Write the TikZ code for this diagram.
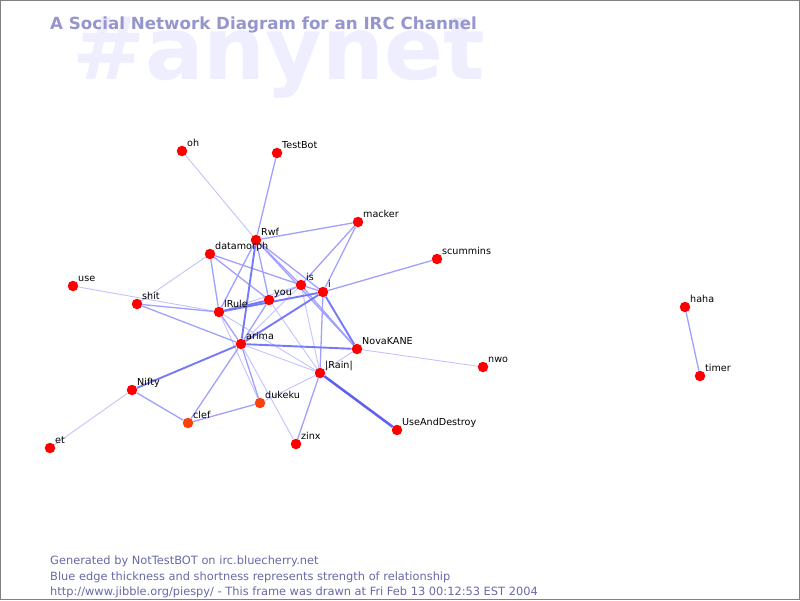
\documentclass[tikz,border=0pt]{standalone}
\usepackage{fontspec}
\setmainfont{DejaVu Sans}
\usetikzlibrary{backgrounds}
\definecolor{ethin}{RGB}{195,195,255}
\definecolor{emed}{RGB}{160,160,255}
\definecolor{ethick}{RGB}{120,120,250}
\definecolor{ebold}{RGB}{95,95,240}
\definecolor{titlec}{RGB}{150,150,205}
\definecolor{footc}{RGB}{105,105,170}
\definecolor{bgtext}{RGB}{238,238,255}
\definecolor{orangered}{RGB}{250,65,10}
\tikzset{
  dot/.style={circle,inner sep=0pt,minimum size=10.5pt,draw=none},
  lbl/.style={anchor=base west,inner sep=0pt,font=\fontsize{9.6}{11}\selectfont,text=black},
  ethinline/.style={draw=ethin,line width=0.9pt},
  emedline/.style={draw=emed,line width=1.3pt},
  ethickline/.style={draw=ethick,line width=1.9pt},
  eboldline/.style={draw=ebold,line width=2.5pt},
  foot/.style={anchor=base west,inner sep=0pt,text=footc,font=\fontsize{11.4}{13}\selectfont}
}
\newcommand\netnode[5][red]{%
  \node[dot,fill=#1] (#2) at (#3,#4) {};
  \node[lbl] (#2-l) at (#3+5,#4-5) {#5};}
\begin{document}
\begin{tikzpicture}[x=1pt,y=-1pt]
\useasboundingbox (0,0) rectangle (800,600);

\netnode{oh}{182}{151}{oh}
\netnode{TestBot}{277}{153}{TestBot}
\netnode{Rwf}{256}{240}{Rwf}
\netnode{macker}{358}{222}{macker}
\netnode{datamorph}{210}{254}{datamorph}
\netnode{scummins}{437}{259}{scummins}
\netnode{use}{73}{286}{use}
\netnode{shit}{137}{304}{shit}
\netnode{is}{301}{285}{is}
\netnode{i}{323}{292}{i}
\netnode{you}{269}{300}{you}
\netnode{IRule}{219}{312}{lRule}
\netnode{arima}{241}{344}{arima}
\netnode{NovaKANE}{357}{349}{NovaKANE}
\netnode{Rain}{320}{373}{|Rain|}
\netnode{nwo}{483}{367}{nwo}
\netnode{Nifty}{132}{390}{Nifty}
\netnode[orangered]{dukeku}{260}{403}{dukeku}
\netnode[orangered]{clef}{188}{423}{clef}
\netnode{UseAndDestroy}{397}{430}{UseAndDestroy}
\netnode{zinx}{296}{444}{zinx}
\netnode{et}{50}{448}{et}
\netnode{haha}{685}{307}{haha}
\netnode{timer}{700}{376}{timer}

\node[anchor=base west,inner sep=0pt,text=titlec,font=\bfseries\fontsize{16.7}{20}\selectfont] (title) at (50,29.5) {A Social Network Diagram for an IRC Channel};

\node[foot] (f1) at (50,564) {Generated by NotTestBOT on irc.bluecherry.net};
\node[foot] (f2) at (50,580) {Blue edge thickness and shortness represents strength of relationship};
\node[foot] (f3) at (50,595.5) {http://www.jibble.org/piespy/ - This frame was drawn at Fri Feb 13 00:12:53 EST 2004};

\draw[gray,line width=1.2pt] (0.6,0.6) rectangle (799.4,599.4);

\begin{scope}[on background layer]
\fill[white] (0,0) rectangle (800,600);
\node[anchor=base west,inner sep=0pt,text=bgtext,font=\bfseries\fontsize{87}{90}\selectfont] (bg) at (72,79) {\#anynet};
% thin
\draw[ethinline] (oh) -- (Rwf);
\draw[ethinline] (datamorph) -- (shit);
\draw[ethinline] (use) -- (IRule);
\draw[ethinline] (IRule) -- (is);
\draw[ethinline] (IRule) -- (Rain);
\draw[ethinline] (IRule) -- (dukeku);
\draw[ethinline] (you) -- (Rain);
\draw[ethinline] (is) -- (Rain);
\draw[ethinline] (arima) -- (Rain);
\draw[ethinline] (arima) -- (zinx);
\draw[ethinline] (NovaKANE) -- (Rain);
\draw[ethinline] (NovaKANE) -- (nwo);
\draw[ethinline] (Rain) -- (dukeku);
\draw[ethinline] (Nifty) -- (et);
\draw[ethinline] (arima) -- (is);
% medium
\draw[emedline] (TestBot) -- (Rwf);
\draw[emedline] (Rwf) -- (macker);
\draw[emedline] (macker) -- (is);
\draw[emedline] (macker) -- (i);
\draw[emedline] (Rwf) -- (IRule);
\draw[emedline] (Rwf) -- (you);
\draw[emedline] (Rwf) -- (is);
\draw[emedline] (Rwf) -- (i);
\draw[emedline] (Rwf) -- (NovaKANE);
\draw[emedline] (datamorph) -- (IRule);
\draw[emedline] (datamorph) -- (you);
\draw[emedline] (datamorph) -- (is);
\draw[emedline] (scummins) -- (i);
\draw[emedline] (shit) -- (IRule);
\draw[emedline] (shit) -- (arima);
\draw[emedline] (IRule) -- (arima);
\draw[emedline] (you) -- (is);
\draw[emedline] (you) -- (arima);
\draw[emedline] (is) -- (i);
\draw[emedline] (is) -- (NovaKANE);
\draw[emedline] (i) -- (Rain);
\draw[emedline] (arima) -- (clef);
\draw[emedline] (arima) -- (dukeku);
\draw[emedline] (Rain) -- (zinx);
\draw[emedline] (Nifty) -- (clef);
\draw[emedline] (clef) -- (dukeku);
\draw[emedline] (haha) -- (timer);
% thick
\draw[ethickline] (Rwf) -- (arima);
\draw[ethickline] (IRule) -- (you);
\draw[ethickline] (IRule) -- (i);
\draw[ethickline] (i) -- (arima);
\draw[ethickline] (i) -- (NovaKANE);
\draw[ethickline] (arima) -- (NovaKANE);
\draw[ethickline] (arima) -- (Nifty);
\draw[eboldline] (Rain) -- (UseAndDestroy);
\end{scope}
\end{tikzpicture}
\end{document}
